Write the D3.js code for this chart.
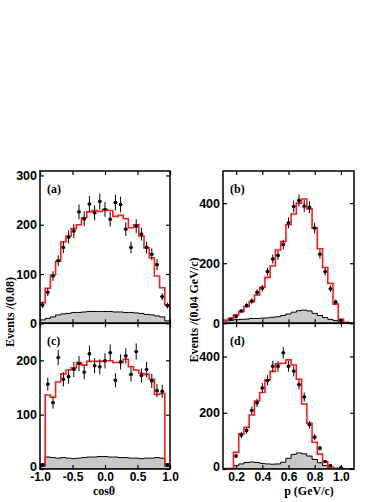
<!DOCTYPE html>
<html>
<head>
<meta charset="utf-8">
<script src="https://cdn.jsdelivr.net/npm/d3@7"></script>
<style>
body { margin: 0; background: #fff; }
svg { display: block; }
</style>
</head>
<body>
<svg id="chart" width="388" height="502"></svg>
<script>
// bin centres (25 bins each)
var cosBins = [-0.96,-0.88,-0.80,-0.72,-0.64,-0.56,-0.48,-0.40,-0.32,-0.24,-0.16,-0.08,0.00,
               0.08,0.16,0.24,0.32,0.40,0.48,0.56,0.64,0.72,0.80,0.88,0.96];
var pBins = [0.12,0.16,0.20,0.24,0.28,0.32,0.36,0.40,0.44,0.48,0.52,0.56,0.60,
             0.64,0.68,0.72,0.76,0.80,0.84,0.88,0.92,0.96,1.00,1.04,1.08];

var cosTicks = [-1.0,-0.5,0.0,0.5,1.0];
var pTicks = [0.2,0.4,0.6,0.8,1.0];

// (a) cos theta
var dataA = [37,63,96,127,154,175,187,226,212,242,224,247,231,211,245,241,191,154,197,181,154,140,119,54,36];
var errA  = [6,8,10,11,12,13,14,15,15,16,15,16,15,15,16,16,14,12,14,13,12,12,11,7,6];
var fitA  = [42,71,98,126,165,177,192,200,214,226,229,227,231,229,217,219,212,194,200,177,153,133,96,72,37];
var bkgA  = [7,10,13,17,19,20,22,22,23,24,24,24,24,24,23,23,22,22,21,20,18,17,15,13,5];

// (b) momentum
var dataB = [null,14,22,41,59,74,103,117,172,214,226,262,334,389,409,390,386,317,230,172,115,71,10,null,null];
var errB  = [0,4,5,6,8,9,10,11,13,15,15,16,18,20,20,20,20,18,15,13,11,8,3,0,0];
var fitB  = [11,17,28,39,56,72,94,120,153,191,244,272,328,364,400,414,381,317,248,186,133,64,13,3,0];
var bkgB  = [8,10,12,13,14,16,16,17,18,20,22,26,31,37,42,44,41,33,26,19,13,9,4,1,0];

// (c) cos theta
var dataC = [8,156,122,205,165,170,183,194,178,212,190,188,199,214,163,197,208,174,216,172,183,162,144,143,8];
var errC  = [3,12,11,14,13,13,14,14,13,15,14,14,14,15,13,14,14,13,15,13,14,13,12,12,3];
var fitC  = [9,136,132,160,175,182,186,196,191,198,198,198,199,199,196,196,202,188,182,176,174,165,137,139,9];
var bkgC  = [5,22,21,20,21,20,19,20,21,22,22,23,23,22,22,21,21,20,20,19,20,20,21,20,5];

// (d) momentum
var dataD = [null,null,46,121,137,208,235,288,315,365,365,413,365,348,300,256,157,113,74,26,12,null,5,null,null];
var errD  = [0,0,7,11,12,14,15,17,18,19,19,20,19,19,17,16,13,11,9,5,3,0,2,0,0];
var fitD  = [2,2,59,125,148,192,242,272,317,347,374,376,388,370,319,231,163,95,53,26,6,2,2,0,0];
var bkgD  = [0,2,12,18,23,25,23,20,18,17,18,24,38,52,57,54,46,34,22,12,6,3,1,0,0];

var svg = d3.select("#chart");
var tickFont = "'Liberation Sans', Arial, sans-serif";
var titleFont = "'Liberation Serif', 'Times New Roman', serif";

function drawPanel(p) {
  var x = d3.scaleLinear().domain(p.xdom).range([p.left, p.right]);
  var y = d3.scaleLinear().domain(p.ydom).range([p.bottom, p.top]);
  var w = p.binw;

  var clipId = "clip-" + p.label.replace(/[()]/g, "");
  svg.append("clipPath").attr("id", clipId)
    .append("rect")
    .attr("x", p.left).attr("y", p.top)
    .attr("width", p.right - p.left).attr("height", p.bottom - p.top);

  var g = svg.append("g").attr("clip-path", "url(#" + clipId + ")");

  // step points from bin centres
  function steps(vals) {
    var pts = [{x: p.bins[0] - w / 2, y: 0}];
    p.bins.forEach(function(c, i) {
      pts.push({x: c - w / 2, y: vals[i]});
      pts.push({x: c + w / 2, y: vals[i]});
    });
    pts.push({x: p.bins[p.bins.length - 1] + w / 2, y: 0});
    return pts;
  }

  // background (grey)
  g.append("path")
    .datum(steps(p.bkg))
    .attr("fill", "#c8c8c8")
    .attr("stroke", "#000")
    .attr("stroke-width", 1)
    .attr("d", d3.area()
      .x(function(d) { return x(d.x); })
      .y0(y(0))
      .y1(function(d) { return y(d.y); }));

  // fit (red)
  g.append("path")
    .datum(steps(p.fit))
    .attr("fill", "none")
    .attr("stroke", "#ff1a1a")
    .attr("stroke-width", 1.6)
    .attr("d", d3.line()
      .x(function(d) { return x(d.x); })
      .y(function(d) { return y(d.y); }));

  // data points with error bars
  var pts = p.bins.map(function(c, i) { return {c: c, v: p.data[i], e: p.err[i]}; })
    .filter(function(d) { return d.v !== null; });

  var pt = g.selectAll(".pt").data(pts).enter().append("g");
  pt.append("line")
    .attr("x1", function(d) { return x(d.c); })
    .attr("x2", function(d) { return x(d.c); })
    .attr("y1", function(d) { return y(d.v - d.e); })
    .attr("y2", function(d) { return y(d.v + d.e); })
    .attr("stroke", "#000").attr("stroke-width", 1);
  pt.append("line")
    .attr("x1", function(d) { return x(d.c) - 2; })
    .attr("x2", function(d) { return x(d.c) + 2; })
    .attr("y1", function(d) { return y(d.v); })
    .attr("y2", function(d) { return y(d.v); })
    .attr("stroke", "#000").attr("stroke-width", 1);
  pt.append("rect")
    .attr("x", function(d) { return x(d.c) - 1.5; })
    .attr("y", function(d) { return y(d.v) - 1.5; })
    .attr("width", 3).attr("height", 3)
    .attr("fill", "#000");

  // axes, ticks inside on all four sides
  var fmtX = function(d) { return d.toFixed(1); };

  var left = svg.append("g")
    .attr("transform", "translate(" + p.left + ",0)")
    .call(d3.axisLeft(y).tickValues(p.yticks).tickSize(-4).tickPadding(3).tickFormat(d3.format("d")));
  var right = svg.append("g")
    .attr("transform", "translate(" + p.right + ",0)")
    .call(d3.axisRight(y).tickValues(p.yticks).tickSize(-4).tickFormat(""));
  var top = svg.append("g")
    .attr("transform", "translate(0," + p.top + ")")
    .call(d3.axisTop(x).tickValues(p.xticks).tickSize(-4).tickFormat(""));
  var bottom = svg.append("g")
    .attr("transform", "translate(0," + p.bottom + ")")
    .call(d3.axisBottom(x).tickValues(p.xticks).tickSize(-4).tickPadding(3)
      .tickFormat(p.xlabels ? fmtX : ""));

  [left, right, top, bottom].forEach(function(a) {
    a.select(".domain").remove();
    a.selectAll(".tick line").attr("stroke", "#000").attr("stroke-width", 1.2);
    a.selectAll("text")
      .attr("fill", "#000")
      .style("font-family", tickFont)
      .style("font-weight", "bold")
      .style("font-size", "12.5px");
  });
  bottom.selectAll("text").style("font-size", "12px");

  // lowest y label sits just above the x labels in the lower panels
  if (p.xlabels) {
    left.selectAll(".tick text")
      .filter(function(d) { return d === 0; })
      .attr("dy", "0.1em");
  }

  // frame
  svg.append("rect")
    .attr("x", p.left).attr("y", p.top)
    .attr("width", p.right - p.left).attr("height", p.bottom - p.top)
    .attr("fill", "none").attr("stroke", "#000").attr("stroke-width", 1.5);

  // panel label
  svg.append("text")
    .attr("x", p.left + 7).attr("y", p.top + 22)
    .style("font-family", titleFont)
    .style("font-weight", "bold")
    .style("font-size", "12px")
    .text(p.label);
}

var midY = 323.3;

drawPanel({label: "(a)", left: 40, right: 170, top: 171, bottom: midY,
  xdom: [-1, 1], ydom: [0, 309], binw: 0.08, bins: cosBins,
  xticks: cosTicks, yticks: [0, 100, 200, 300], xlabels: false,
  data: dataA, err: errA, fit: fitA, bkg: bkgA});

drawPanel({label: "(b)", left: 223, right: 354, top: 171, bottom: midY,
  xdom: [0.1, 1.1], ydom: [0, 507], binw: 0.04, bins: pBins,
  xticks: pTicks, yticks: [0, 200, 400], xlabels: false,
  data: dataB, err: errB, fit: fitB, bkg: bkgB});

drawPanel({label: "(c)", left: 40, right: 170, top: midY, bottom: 469,
  xdom: [-1, 1], ydom: [0, 268], binw: 0.08, bins: cosBins,
  xticks: cosTicks, yticks: [0, 100, 200], xlabels: true,
  data: dataC, err: errC, fit: fitC, bkg: bkgC});

drawPanel({label: "(d)", left: 223, right: 354, top: midY, bottom: 469,
  xdom: [0.1, 1.1], ydom: [0, 518], binw: 0.04, bins: pBins,
  xticks: pTicks, yticks: [0, 200, 400], xlabels: true,
  data: dataD, err: errD, fit: fitD, bkg: bkgD});

// axis titles
function title(txt, x, y, rot) {
  svg.append("text")
    .attr("transform", "translate(" + x + "," + y + ")" + (rot ? " rotate(-90)" : ""))
    .attr("text-anchor", "middle")
    .style("font-family", titleFont)
    .style("font-weight", "bold")
    .style("font-size", "12px")
    .text(txt);
}

title("Events /(0.08)", 14, 312, true);
title("Events /(0.04 GeV/c)", 198, 310, true);
title("cos\u03b8", 104, 495, false);
title("p (GeV/c)", 309, 495, false);
</script>
</body>
</html>
